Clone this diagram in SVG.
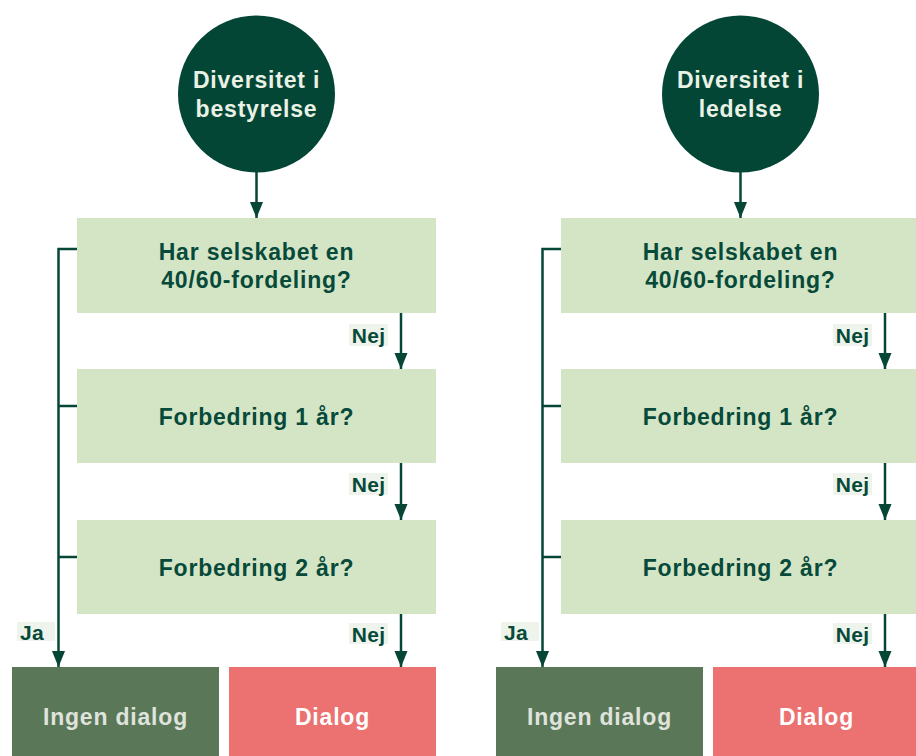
<svg xmlns="http://www.w3.org/2000/svg" width="916" height="756" viewBox="0 0 916 756">
<defs>
<marker id="ah" markerUnits="userSpaceOnUse" markerWidth="14" markerHeight="17" refX="16" refY="6.5" orient="auto">
<path d="M0,0 L16,6.5 L0,13 Z" fill="#054636"/>
</marker>
<style>
.circ{fill:#044636}
.q{fill:#d4e5c6}
.no{fill:#5a7858}
.yes{fill:#ec7171}
.t{font-family:"Liberation Sans",Arial,sans-serif;font-weight:bold;font-size:23px;letter-spacing:0.8px;text-anchor:middle}
.qt{fill:#074a3a}
.ct{fill:#eaf2e6}
.nt{fill:#dfe3dc}
.dt{fill:#ffffff}
.lbl{font-family:"Liberation Sans",Arial,sans-serif;font-weight:bold;font-size:21px;letter-spacing:0.3px;fill:#074a3a;text-anchor:middle}
.lb{fill:#eef4eb}
.c{stroke:#054636;stroke-width:2.5;fill:none}
</style>
</defs>
<g id="connectors">
<line class="c" x1="256.5" y1="172" x2="256.5" y2="218" marker-end="url(#ah)"/>
<line class="c" x1="401" y1="313" x2="401" y2="369" marker-end="url(#ah)"/>
<line class="c" x1="401" y1="463" x2="401" y2="520" marker-end="url(#ah)"/>
<line class="c" x1="401" y1="614" x2="401" y2="667" marker-end="url(#ah)"/>
<polyline class="c" points="77,249 58.5,249 58.5,667" marker-end="url(#ah)"/>
<line class="c" x1="58.5" y1="406" x2="77" y2="406"/>
<line class="c" x1="58.5" y1="557" x2="77" y2="557"/>
<line class="c" x1="740.5" y1="172" x2="740.5" y2="218" marker-end="url(#ah)"/>
<line class="c" x1="885" y1="313" x2="885" y2="369" marker-end="url(#ah)"/>
<line class="c" x1="885" y1="463" x2="885" y2="520" marker-end="url(#ah)"/>
<line class="c" x1="885" y1="614" x2="885" y2="667" marker-end="url(#ah)"/>
<polyline class="c" points="561,249 542.5,249 542.5,667" marker-end="url(#ah)"/>
<line class="c" x1="542.5" y1="406" x2="561" y2="406"/>
<line class="c" x1="542.5" y1="557" x2="561" y2="557"/>
<rect class="lb" x="349" y="324" width="39" height="22"/>
<text class="lbl" x="368.5" y="343">Nej</text>
<rect class="lb" x="349" y="473" width="39" height="22"/>
<text class="lbl" x="368.5" y="492">Nej</text>
<rect class="lb" x="349" y="623" width="39" height="21"/>
<text class="lbl" x="368.5" y="642">Nej</text>
<rect class="lb" x="17" y="622" width="38" height="19"/>
<text class="lbl" x="32" y="640">Ja</text>
<rect class="lb" x="833" y="324" width="39" height="22"/>
<text class="lbl" x="852.5" y="343">Nej</text>
<rect class="lb" x="833" y="473" width="39" height="22"/>
<text class="lbl" x="852.5" y="492">Nej</text>
<rect class="lb" x="833" y="623" width="39" height="21"/>
<text class="lbl" x="852.5" y="642">Nej</text>
<rect class="lb" x="501" y="622" width="38" height="19"/>
<text class="lbl" x="516" y="640">Ja</text>
</g>
<g id="start-bestyrelse">
<circle class="circ" cx="256.5" cy="94" r="78.5"/>
<text class="t ct" x="256.5" y="88">Diversitet i</text>
<text class="t ct" x="256.5" y="117">bestyrelse</text>
</g>
<g id="q1-left">
<rect class="q" x="77" y="218" width="359" height="95"/>
<text class="t qt" x="256.5" y="260">Har selskabet en</text>
<text class="t qt" x="256.5" y="288">40/60-fordeling?</text>
</g>
<g id="q2-left">
<rect class="q" x="77" y="369" width="359" height="94"/>
<text class="t qt" x="256.5" y="425">Forbedring 1 år?</text>
</g>
<g id="q3-left">
<rect class="q" x="77" y="520" width="359" height="94"/>
<text class="t qt" x="256.5" y="576">Forbedring 2 år?</text>
</g>
<g id="ingen-left">
<rect class="no" x="12" y="667" width="207" height="89"/>
<text class="t nt" x="115.5" y="725">Ingen dialog</text>
</g>
<g id="dialog-left">
<rect class="yes" x="229" y="667" width="207" height="89"/>
<text class="t dt" x="332.5" y="725">Dialog</text>
</g>
<g id="start-ledelse">
<circle class="circ" cx="740.5" cy="94" r="78.5"/>
<text class="t ct" x="740.5" y="88">Diversitet i</text>
<text class="t ct" x="740.5" y="117">ledelse</text>
</g>
<g id="q1-right">
<rect class="q" x="561" y="218" width="359" height="95"/>
<text class="t qt" x="740.5" y="260">Har selskabet en</text>
<text class="t qt" x="740.5" y="288">40/60-fordeling?</text>
</g>
<g id="q2-right">
<rect class="q" x="561" y="369" width="359" height="94"/>
<text class="t qt" x="740.5" y="425">Forbedring 1 år?</text>
</g>
<g id="q3-right">
<rect class="q" x="561" y="520" width="359" height="94"/>
<text class="t qt" x="740.5" y="576">Forbedring 2 år?</text>
</g>
<g id="ingen-right">
<rect class="no" x="496" y="667" width="207" height="89"/>
<text class="t nt" x="599.5" y="725">Ingen dialog</text>
</g>
<g id="dialog-right">
<rect class="yes" x="713" y="667" width="207" height="89"/>
<text class="t dt" x="816.5" y="725">Dialog</text>
</g>
</svg>
